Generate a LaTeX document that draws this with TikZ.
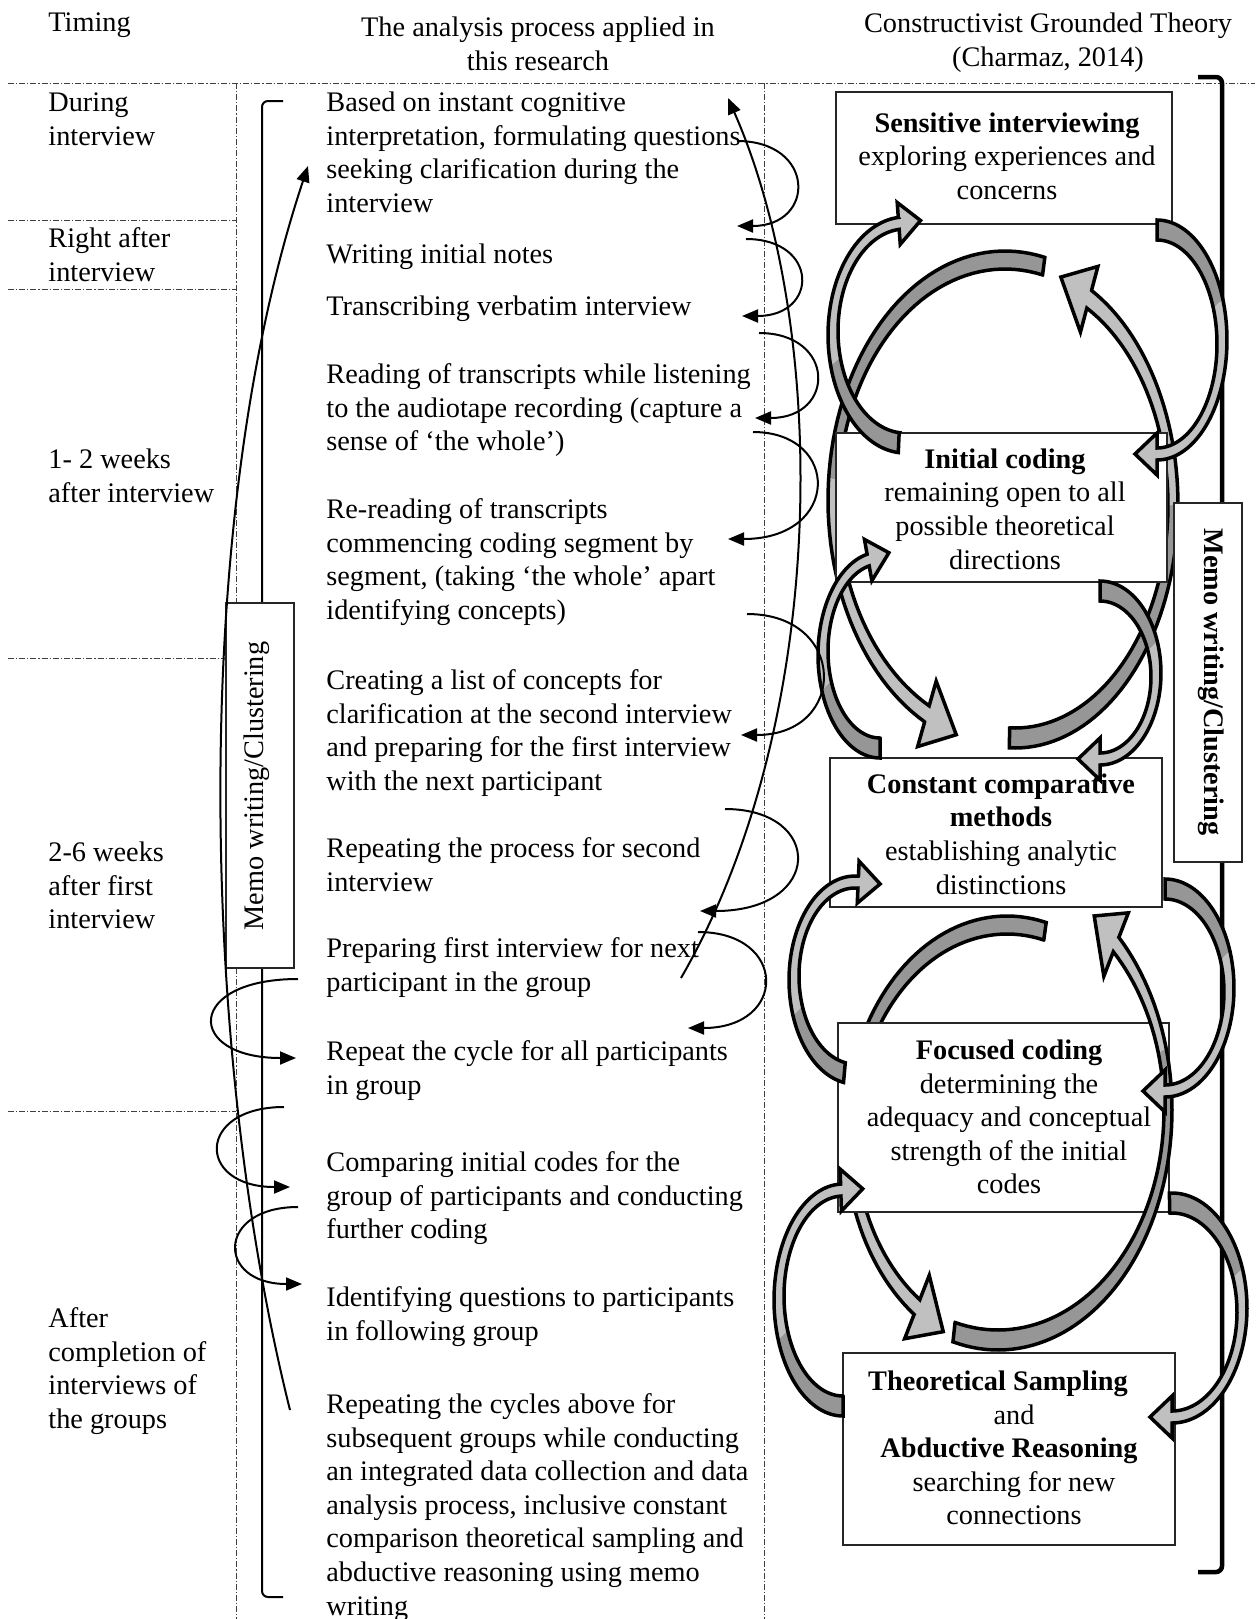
\documentclass[tikz,border=0pt]{standalone}
\usepackage{fontspec}
\setmainfont{Liberation Serif}
\usetikzlibrary{arrows.meta}
\definecolor{lightg}{RGB}{192,192,192}
\definecolor{darkg}{RGB}{150,150,150}
\newcommand\myfs{\fontsize{14.15pt}{16.8pt}\selectfont}
\def\ISX{0}\def\ISY{0}\def\HW{21}\def\HL{22}
% #1 cx #2 cy #3 rx outer #4 ry outer #5 rx inner #6 ry inner #7 tail angle #8 colour switch angle #9 head angle
\newcommand\bigarrow[9]{%
 \pgfmathsetmacro\baSG{(#9>#7)?1:-1}%
 \pgfmathsetmacro\baCIX{#1+(\ISX)}\pgfmathsetmacro\baCIY{#2+(\ISY)}%
 \pgfmathsetmacro\baOSx{#1+#3*cos(#7)}\pgfmathsetmacro\baOSy{#2+#4*sin(#7)}%
 \pgfmathsetmacro\baISx{\baCIX+#5*cos(#7)}\pgfmathsetmacro\baISy{\baCIY+#6*sin(#7)}%
 \pgfmathsetmacro\baOMx{#1+#3*cos(#8)}\pgfmathsetmacro\baOMy{#2+#4*sin(#8)}%
 \pgfmathsetmacro\baIMx{\baCIX+#5*cos(#8)}\pgfmathsetmacro\baIMy{\baCIY+#6*sin(#8)}%
 \pgfmathsetmacro\baOEx{#1+#3*cos(#9)}\pgfmathsetmacro\baOEy{#2+#4*sin(#9)}%
 \pgfmathsetmacro\baIEx{\baCIX+#5*cos(#9)}\pgfmathsetmacro\baIEy{\baCIY+#6*sin(#9)}%
 \pgfmathsetmacro\baMx{(\baOEx+\baIEx)/2}\pgfmathsetmacro\baMy{(\baOEy+\baIEy)/2}%
 \pgfmathsetmacro\baNL{sqrt(((\baOEx-\baIEx)/10)^2+((\baOEy-\baIEy)/10)^2)*10}%
 \pgfmathsetmacro\baNx{(\baOEx-\baIEx)/(\baNL)}\pgfmathsetmacro\baNy{(\baOEy-\baIEy)/(\baNL)}%
 \pgfmathsetmacro\baDx{0-(\baSG)*(#3+#5)/1000*sin(#9)}\pgfmathsetmacro\baDy{(\baSG)*(#4+#6)/1000*cos(#9)}%
 \pgfmathsetmacro\baDL{sqrt((\baDx)^2+(\baDy)^2)}%
 \pgfmathsetmacro\baTx{\baMx+(\HL)*(\baDx)/(\baDL)}\pgfmathsetmacro\baTy{\baMy+(\HL)*(\baDy)/(\baDL)}%
 \pgfmathsetmacro\baAx{\baMx+(\HW)*(\baNx)}\pgfmathsetmacro\baAy{\baMy+(\HW)*(\baNy)}%
 \pgfmathsetmacro\baBx{\baMx-(\HW)*(\baNx)}\pgfmathsetmacro\baBy{\baMy-(\HW)*(\baNy)}%
 \fill[darkg] (\baOSx,\baOSy) -- plot[domain=#7:#8,samples=40] ({#1+#3*cos(\x)},{#2+#4*sin(\x)}) -- (\baOMx,\baOMy)
   -- (\baIMx,\baIMy) -- plot[domain=#8:#7,samples=40] ({\baCIX+#5*cos(\x)},{\baCIY+#6*sin(\x)}) -- (\baISx,\baISy) -- cycle;
 \fill[lightg] (\baOMx,\baOMy) -- plot[domain=#8:#9,samples=40] ({#1+#3*cos(\x)},{#2+#4*sin(\x)}) -- (\baOEx,\baOEy)
   -- (\baAx,\baAy) -- (\baTx,\baTy) -- (\baBx,\baBy) -- (\baIEx,\baIEy)
   -- plot[domain=#9:#8,samples=40] ({\baCIX+#5*cos(\x)},{\baCIY+#6*sin(\x)}) -- (\baIMx,\baIMy) -- cycle;
 \draw[outl] (\baOSx,\baOSy) -- plot[domain=#7:#9,samples=70] ({#1+#3*cos(\x)},{#2+#4*sin(\x)}) -- (\baOEx,\baOEy)
   -- (\baAx,\baAy) -- (\baTx,\baTy) -- (\baBx,\baBy) -- (\baIEx,\baIEy)
   -- plot[domain=#9:#7,samples=70] ({\baCIX+#5*cos(\x)},{\baCIY+#6*sin(\x)}) -- (\baISx,\baISy) -- cycle;
}
\begin{document}
\begin{tikzpicture}[x=0.5pt,y=-0.5pt,
  every node/.style={font=\myfs, inner sep=0pt},
  ltext/.style={anchor=north west, align=left},
  ctext/.style={align=center},
  cbox/.style={draw=black!85, line width=0.7pt, fill=white, rectangle},
  dashdot/.style={draw=black!75, line width=0.5pt, dash pattern=on 3pt off 1pt on 0.6pt off 1pt},
  outl/.style={draw=black, line width=1.75pt, line join=miter, miter limit=4},
  thinarrow/.style={draw=black, line width=1pt, -{Triangle[length=8pt,width=6.5pt]}}]
\useasboundingbox (0,0) rectangle (1255,1619);
\fill[white] (0,0) rectangle (1255,1619);

% grid lines
\draw[dashdot] (8,83) -- (1255,83);
\draw[dashdot] (8,220) -- (236,220);
\draw[dashdot] (8,289) -- (236,289);
\draw[dashdot] (8,658) -- (236,658);
\draw[dashdot] (8,1111) -- (236,1111);
\draw[dashdot] (236,83) -- (236,1619);
\draw[dashdot] (764,83) -- (764,1619);

% brackets
\draw[line width=1pt, rounded corners=3pt] (283,101) -- (262,101) -- (262,1597) -- (283,1597);
\draw[line width=2.25pt, rounded corners=3pt] (1198,77) -- (1222,77) -- (1222,1572) -- (1198,1572);

% inner curved arrows behind boxes
\def\ISX{0}\def\ISY{0}\def\HW{34}\def\HL{36}
\bigarrow{1005}{500}{177}{249}{167}{231}{283}{185}{117}
\bigarrow{1015}{505}{163}{243}{153}{223}{92}{0}{-62}
\bigarrow{1007}{1135}{162}{219}{152}{201}{284}{190}{125}

% boxes
\node[cbox, minimum width=168pt, minimum height=66pt] (b1) at (1004,158) {};
\node[cbox, minimum width=165.5pt, minimum height=74.5pt] (b2) at (1001.5,507.5) {};
\node[cbox, minimum width=166pt, minimum height=74.5pt] (b3) at (996,832.5) {};
\node[cbox, minimum width=165.5pt, minimum height=94.5pt] (b4) at (1003.5,1117.5) {};
\node[cbox, minimum width=166pt, minimum height=96pt] (b5) at (1009,1449) {};

\bigarrow{998}{1110}{174}{240}{166}{220}{105}{-15}{-46}

% outer curved arrows
\def\HW{21}\def\HL{22}
\def\ISY{-4}
\bigarrow{905}{335}{77}{118}{67}{102}{95}{165}{265}
\bigarrow{880}{655}{62}{103}{52}{87}{90}{160}{258}
\bigarrow{855}{980}{66}{104}{56}{88}{100}{160}{273}
\bigarrow{843}{1300}{69}{116}{59}{100}{90}{160}{268}
\def\ISY{4}
\bigarrow{1157}{340}{70}{120}{60}{104}{-90}{-20}{90}
\bigarrow{1100}{673}{61}{92}{51}{76}{-90}{-20}{90}
\bigarrow{1165}{988}{69}{109}{59}{93}{-90}{-20}{90}
\bigarrow{1172}{1308}{75}{115}{65}{99}{-92}{-20}{90}

% box texts
\node[ctext] (b1t) at (1007,159) {\strut\textbf{Sensitive interviewing}\\exploring experiences and\\concerns\strut};
\node[ctext] (b2t) at (1005,512) {\strut\textbf{Initial coding}\\remaining open to all\\possible theoretical\\directions\strut};
\node[ctext] (b3t) at (1001,837) {\strut\textbf{Constant comparative}\\\textbf{methods}\\establishing analytic\\distinctions\strut};
\node[ctext] (b4t) at (1009,1120) {\strut\textbf{Focused coding}\\determining the\\adequacy and conceptual\\strength of the initial\\codes\strut};
\node[ctext] (b5t) at (1009,1451) {\strut\textbf{Theoretical Sampling}\hspace*{11pt}\\\hspace*{5pt}and\\\textbf{Abductive Reasoning}\hspace*{11pt}\\\hspace*{5pt}searching for new\\\hspace*{5pt}connections\strut};

% memo boxes
\node[cbox, minimum width=34pt, minimum height=182.5pt] (mL) at (260,785.5) {};
\node[rotate=90] (mLt) at (257,786) {Memo writing/Clustering};
\node[cbox, minimum width=34pt, minimum height=179.5pt] (mR) at (1208,682.5) {};
\node[rotate=-90] (mRt) at (1211,682) {\textbf{Memo writing/Clustering}};

% headers
\node[ltext] (hT) at (48,7.5) {\strut Timing};
\node[anchor=north, align=center] (hA) at (538,12.5) {\strut The analysis process applied in\\this research};
\node[anchor=north, align=center] (hC) at (1048,8.5) {\strut Constructivist Grounded Theory\\(Charmaz, 2014)};

% timing column
\node[ltext] (t1) at (48,87.5) {\strut During\\interview};
\node[ltext] (t2) at (48,223.5) {\strut Right after\\interview};
\node[ltext] (t3) at (48,444.5) {\strut 1- 2 weeks\\after interview};
\node[ltext] (t4) at (48,837.5) {\strut 2-6 weeks\\after first\\interview};
\node[ltext] (t5) at (48,1303.5) {\strut After\\completion of\\interviews of\\the groups};

% process column
\node[ltext] (m1) at (326,87.5) {\strut Based on instant cognitive\\interpretation, formulating questions\\seeking clarification during the\\interview};
\node[ltext] (m2) at (326,239.5) {\strut Writing initial notes};
\node[ltext] (m3) at (326,291.5) {\strut Transcribing verbatim interview};
\node[ltext] (m4) at (326,359.5) {\strut Reading of transcripts while listening\\to the audiotape recording (capture a\\sense of ‘the whole’)};
\node[ltext] (m5) at (326,494.5) {\strut Re-reading of transcripts\\commencing coding segment by\\segment, (taking ‘the whole’ apart\\identifying concepts)};
\node[ltext] (m6) at (326,665.5) {\strut Creating a list of concepts for\\clarification at the second interview\\and preparing for the first interview\\with the next participant};
\node[ltext] (m7) at (326,833.5) {\strut Repeating the process for second\\interview};
\node[ltext] (m8) at (326,933.5) {\strut Preparing first interview for next\\participant in the group};
\node[ltext] (m9) at (326,1036.5) {\strut Repeat the cycle for all participants\\in group};
\node[ltext] (m10) at (326,1147.5) {\strut Comparing initial codes for the\\group of participants and conducting\\further coding};
\node[ltext] (m11) at (326,1282.5) {\strut Identifying questions to participants\\in following group};
\node[ltext] (m12) at (326,1389.5) {\strut Repeating the cycles above for\\subsequent groups while conducting\\an integrated data collection and data\\analysis process, inclusive constant\\comparison theoretical sampling and\\abductive reasoning using memo\\writing};

% thin connector end points
\coordinate (a1s) at (737,141); \coordinate (a1e) at (737,226);
\coordinate (a2s) at (746,239); \coordinate (a2e) at (742,316);
\coordinate (a3s) at (759,333); \coordinate (a3e) at (755,418);
\coordinate (a4s) at (753,432); \coordinate (a4e) at (728,539);
\coordinate (a5s) at (747,614); \coordinate (a5e) at (741,735);
\coordinate (a6s) at (725,809); \coordinate (a6e) at (700,911);
\coordinate (a7s) at (698,932); \coordinate (a7e) at (688,1028);
\coordinate (b1s) at (298,979); \coordinate (b1e) at (296,1058);
\coordinate (b2s) at (284,1107); \coordinate (b2e) at (290,1187);
\coordinate (b3s) at (298,1207); \coordinate (b3e) at (302,1284);
\coordinate (L1s) at (290,1410); \coordinate (L1e) at (308,166);
\coordinate (L2s) at (681,978); \coordinate (L2e) at (728,98);

\draw[thinarrow] (a1s) .. controls (816,141) and (816,226) .. (a1e);
\draw[thinarrow] (a2s) .. controls (819,239) and (819,316) .. (a2e);
\draw[thinarrow] (a3s) .. controls (836,333) and (836,418) .. (a3e);
\draw[thinarrow] (a4s) .. controls (841,432) and (841,539) .. (a4e);
\draw[thinarrow] (a5s) .. controls (848,614) and (848,735) .. (a5e);
\draw[thinarrow] (a6s) .. controls (824,809) and (824,911) .. (a6e);
\draw[thinarrow] (a7s) .. controls (788,932) and (788,1028) .. (a7e);
\draw[thinarrow] (b1s) .. controls (185,979) and (185,1058) .. (b1e);
\draw[thinarrow] (b2s) .. controls (196,1107) and (196,1187) .. (b2e);
\draw[thinarrow] (b3s) .. controls (216,1207) and (216,1284) .. (b3e);
\draw[thinarrow] (L1s) .. controls (200,1050) and (190,520) .. (L1e);
\draw[thinarrow] (L2s) .. controls (830,720) and (830,330) .. (L2e);
\end{tikzpicture}
\end{document}
